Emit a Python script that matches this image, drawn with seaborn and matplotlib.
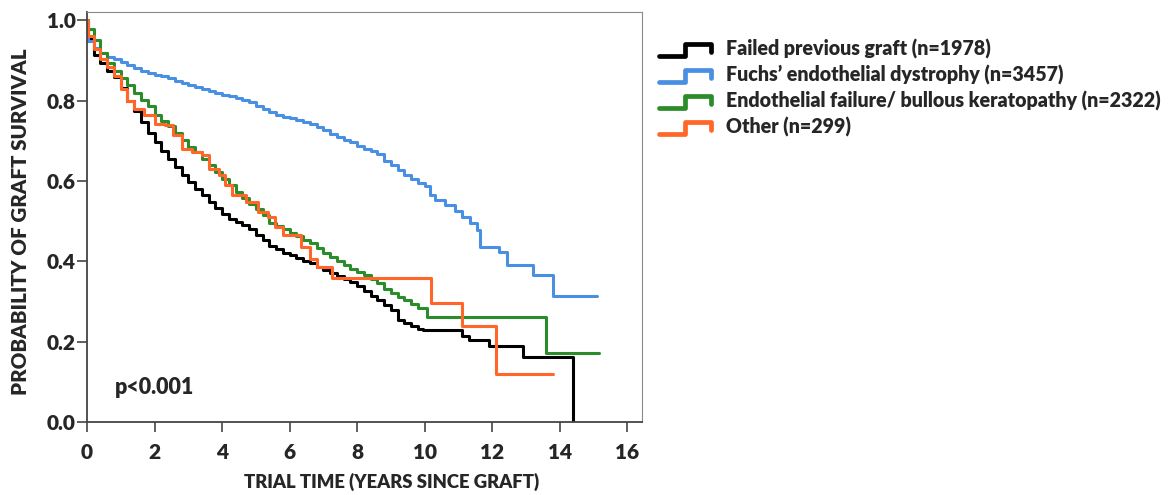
import pandas as pd
import matplotlib.pyplot as plt
import numpy as np
import seaborn as sns
from matplotlib.legend_handler import HandlerBase
from matplotlib.lines import Line2D

# survival curve points (time in years, survival probability)
failed_t = [0, 0.02, 0.2, 0.4, 0.6, 0.8, 1.0, 1.2, 1.4, 1.6, 1.8, 2.0, 2.2, 2.4, 2.6, 2.8, 3.0, 3.2,
            3.4, 3.6, 3.8, 4.0, 4.2, 4.4, 4.6, 4.8, 5.0, 5.2, 5.4, 5.6, 5.8, 6.0, 6.2, 6.4, 6.6, 6.8,
            7.0, 7.2, 7.4, 7.6, 7.8, 8.0, 8.2, 8.4, 8.6, 8.8, 9.0, 9.2, 9.4, 9.6, 9.8, 9.95,
            11.1, 11.3, 11.9, 12.9, 14.4]
failed_s = [1.0, 0.955, 0.915, 0.893, 0.875, 0.86, 0.832, 0.80, 0.775, 0.748, 0.72, 0.698, 0.676,
            0.655, 0.636, 0.616, 0.597, 0.581, 0.564, 0.548, 0.532, 0.517, 0.506, 0.498, 0.49, 0.48,
            0.466, 0.452, 0.438, 0.43, 0.422, 0.415, 0.408, 0.401, 0.395, 0.387, 0.378, 0.37, 0.363,
            0.356, 0.349, 0.338, 0.325, 0.313, 0.304, 0.292, 0.279, 0.255, 0.246, 0.24, 0.232, 0.229,
            0.215, 0.205, 0.19, 0.162, 0.0]

fuchs_t = [0, 0.02, 0.2, 0.4, 0.6, 0.8, 1.0, 1.2, 1.4, 1.6, 1.8, 2.0, 2.2, 2.4, 2.6, 2.8, 3.0, 3.2,
           3.4, 3.6, 3.8, 4.0, 4.2, 4.4, 4.6, 4.8, 5.0, 5.2, 5.4, 5.6, 5.8, 6.0, 6.2, 6.4, 6.6, 6.8,
           7.0, 7.2, 7.4, 7.6, 7.8, 8.0, 8.2, 8.4, 8.6, 8.8, 9.0, 9.2, 9.4, 9.6, 9.8, 10.0, 10.15,
           10.3, 10.6, 10.9, 11.1, 11.35, 11.55, 11.65, 12.2, 12.45, 13.2, 13.8, 15.1]
fuchs_s = [1.0, 0.948, 0.932, 0.918, 0.91, 0.903, 0.896, 0.89, 0.882, 0.875, 0.869, 0.865, 0.861,
           0.856, 0.85, 0.845, 0.84, 0.834, 0.829, 0.824, 0.82, 0.815, 0.811, 0.806, 0.802, 0.797,
           0.788, 0.779, 0.771, 0.765, 0.76, 0.756, 0.751, 0.746, 0.741, 0.734, 0.727, 0.718, 0.71,
           0.703, 0.696, 0.688, 0.68, 0.674, 0.668, 0.65, 0.64, 0.628, 0.614, 0.604, 0.596, 0.588,
           0.565, 0.552, 0.54, 0.525, 0.51, 0.495, 0.478, 0.435, 0.423, 0.39, 0.366, 0.313, 0.313]

endo_t = [0, 0.02, 0.2, 0.4, 0.6, 0.8, 1.0, 1.2, 1.4, 1.6, 1.8, 2.0, 2.2, 2.4, 2.6, 2.8, 3.0, 3.2,
          3.4, 3.6, 3.8, 4.0, 4.2, 4.4, 4.6, 4.8, 5.0, 5.2, 5.4, 5.6, 5.8, 6.0, 6.2, 6.4, 6.6, 6.8,
          7.0, 7.2, 7.4, 7.6, 7.8, 8.0, 8.2, 8.4, 8.6, 8.8, 9.0, 9.2, 9.4, 9.6, 9.8, 10.07,
          13.6, 15.15]
endo_s = [1.0, 0.978, 0.95, 0.92, 0.893, 0.873, 0.857, 0.84, 0.82, 0.803, 0.787, 0.765, 0.75, 0.736,
          0.719, 0.702, 0.686, 0.672, 0.655, 0.639, 0.622, 0.605, 0.589, 0.572, 0.558, 0.544, 0.531,
          0.515, 0.496, 0.488, 0.48, 0.47, 0.462, 0.454, 0.445, 0.434, 0.422, 0.411, 0.401, 0.391,
          0.382, 0.374, 0.365, 0.357, 0.345, 0.332, 0.32, 0.312, 0.304, 0.295, 0.283, 0.262,
          0.172, 0.172]

other_t = [0, 0.02, 0.2, 0.4, 0.6, 0.8, 1.0, 1.2, 1.4, 1.7, 2.0, 2.3, 2.55, 2.8, 3.1, 3.4, 3.6, 3.9,
           4.1, 4.3, 4.7, 5.05, 5.35, 5.57, 5.8, 6.35, 6.6, 6.8, 7.25, 10.2, 11.1, 12.1, 13.8]
other_s = [1.0, 0.96, 0.93, 0.905, 0.885, 0.862, 0.83, 0.80, 0.78, 0.764, 0.743, 0.739, 0.714, 0.681,
           0.672, 0.664, 0.631, 0.614, 0.59, 0.565, 0.548, 0.523, 0.511, 0.486, 0.465, 0.436, 0.407,
           0.386, 0.358, 0.296, 0.239, 0.12, 0.12]

groups = ["Failed previous graft (n=1978)", "Fuchs\u2019 endothelial dystrophy (n=3457)",
          "Endothelial failure/ bullous keratopathy (n=2322)", "Other (n=299)"]
colors = ["#000000", "#4a90e2", "#2b8c2b", "#ff6628"]

frames = []
for g, t, s in zip(groups, [failed_t, fuchs_t, endo_t, other_t], [failed_s, fuchs_s, endo_s, other_s]):
    frames.append(pd.DataFrame({"time": t, "survival": s, "group": g}))
df = pd.concat(frames, ignore_index=True)

sns.set_style("white")
plt.rcParams["font.family"] = ["Lato", "DejaVu Sans"]
plt.rcParams["font.weight"] = "heavy"

fig = plt.figure(figsize=(11.75, 4.95), dpi=100)
ax = fig.add_axes([0.074, 0.1475, 0.4726, 0.8283])

sns.lineplot(data=df, x="time", y="survival", hue="group", hue_order=groups,
             palette=colors, estimator=None, sort=False, drawstyle="steps-post",
             linewidth=2.2, legend=False, ax=ax)

ax.set_xlim(0, 16.44)
ax.set_ylim(0, 1.021)
ax.set_xticks(np.arange(0, 17, 2))
ax.set_yticks(np.arange(0, 1.01, 0.2))
ax.set_yticklabels([f"{v:.1f}" for v in np.arange(0, 1.01, 0.2)])
ax.tick_params(axis="both", which="both", direction="out", length=7, width=1.2,
               color="#444444", labelsize=15, left=True, bottom=True)
ax.tick_params(axis="x", pad=8)
ax.tick_params(axis="y", pad=1)
for lab in ax.get_xticklabels() + ax.get_yticklabels():
    lab.set_fontweight("heavy")

ax.spines["left"].set_color("#444444")
ax.spines["bottom"].set_color("#444444")
ax.spines["left"].set_linewidth(1.3)
ax.spines["bottom"].set_linewidth(1.3)
ax.spines["top"].set_color("#8a8a8a")
ax.spines["right"].set_color("#8a8a8a")

ax.set_xlabel("TRIAL TIME (YEARS SINCE GRAFT)", fontsize=13.3, fontweight="heavy")
ax.set_ylabel("PROBABILITY OF GRAFT SURVIVAL", fontsize=14.8, fontweight="heavy")
ax.xaxis.set_label_coords(0.548, -0.125)
ax.yaxis.set_label_coords(-0.102, 0.488)

ax.text(0.83, 0.085, "p<0.001", fontsize=15.5, fontweight="heavy", va="center", ha="left")


# step shaped legend symbol
class StepHandler(HandlerBase):
    def create_artists(self, legend, orig_handle, xdescent, ydescent, width, height, fontsize, trans):
        w, h = width, height
        xs = np.array([0, 0.5 * w, 0.5 * w, w, w]) - xdescent
        ys = np.array([0.05 * h, 0.05 * h, 0.85 * h, 0.85 * h, 0.3 * h]) - ydescent
        line = Line2D(xs, ys, color=orig_handle.get_color(), linewidth=3.4, transform=trans)
        return [line]


handles = [Line2D([], [], color=c) for c in colors]
fig.legend(handles, groups, loc="upper left", bbox_to_anchor=(0.546, 0.956), frameon=False,
           handler_map={Line2D: StepHandler()}, handlelength=2.65, handleheight=0.8,
           handletextpad=0.75, labelspacing=0.3, prop={"size": 14.1, "weight": "heavy"})

fig.savefig("out.png", dpi=100, facecolor="white")
